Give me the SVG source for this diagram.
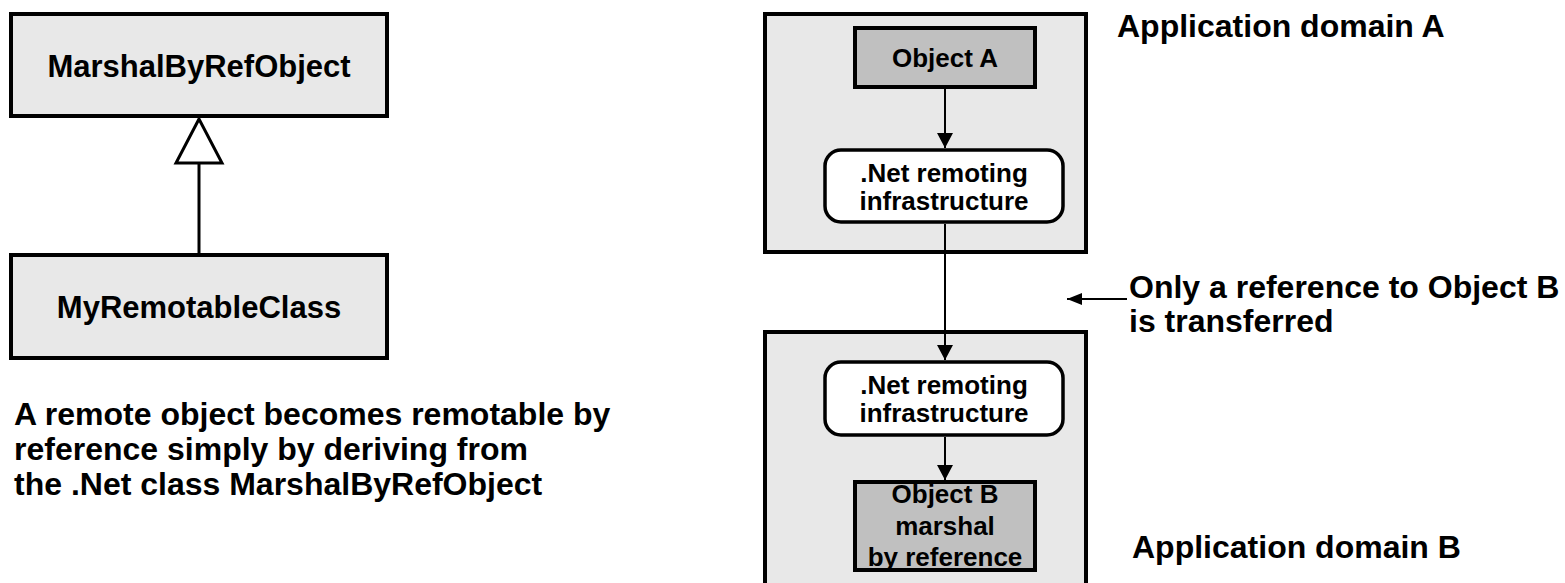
<svg xmlns="http://www.w3.org/2000/svg" width="1565" height="583" viewBox="0 0 1565 583">
<style>
text{font-family:"Liberation Sans",Arial,sans-serif;font-weight:bold;fill:#000}
.cls{fill:#e8e8e8;stroke:#000;stroke-width:4}
.dom{fill:#e8e8e8;stroke:#000;stroke-width:4}
.obj{fill:#c0c0c0;stroke:#000;stroke-width:4}
.infra{fill:#fff;stroke:#000;stroke-width:3.5}
.big{font-size:31px}
.lbl{font-size:32px}
.in{font-size:26px}
.conn{stroke:#000;stroke-width:2;fill:none}
</style>
<defs>
<marker id="ah" markerUnits="userSpaceOnUse" markerWidth="18" markerHeight="16" refX="15" refY="8" orient="auto">
<path d="M0,0 L15,8 L0,16 Z" fill="#000"/>
</marker>
<marker id="ah2" markerUnits="userSpaceOnUse" markerWidth="16" markerHeight="14" refX="15" refY="7" orient="auto">
<path d="M0,1 L15,7 L0,13 Z" fill="#000"/>
</marker>
</defs>
<g id="marshalByRefObject">
<rect class="cls" x="11" y="14" width="376" height="102"/>
<text class="big" x="199" y="77" text-anchor="middle">MarshalByRefObject</text>
</g>
<g id="myRemotableClass">
<rect class="cls" x="11" y="255" width="376" height="103"/>
<text class="big" x="199" y="318" text-anchor="middle">MyRemotableClass</text>
</g>
<g id="caption">
<text class="lbl" x="14" y="425">A remote object becomes remotable by</text>
<text class="lbl" x="14" y="460">reference simply by deriving from</text>
<text class="lbl" x="14" y="495">the .Net class MarshalByRefObject</text>
</g>
<g id="domainA">
<rect class="dom" x="765" y="14" width="321" height="238"/>
<text class="lbl" x="1117" y="37">Application domain A</text>
</g>
<g id="domainB">
<rect class="dom" x="765" y="332" width="321" height="270"/>
<text class="lbl" x="1132" y="558">Application domain B</text>
</g>
<g id="objectA">
<rect class="obj" x="855" y="28" width="180" height="59"/>
<text class="in" x="945" y="67" text-anchor="middle">Object A</text>
</g>
<g id="infraA">
<rect class="infra" x="825" y="150" width="238" height="72" rx="16"/>
<text class="in" x="944" y="182" text-anchor="middle">.Net remoting</text>
<text class="in" x="944" y="210" text-anchor="middle">infrastructure</text>
</g>
<g id="infraB">
<rect class="infra" x="825" y="362" width="238" height="73" rx="16"/>
<text class="in" x="944" y="394" text-anchor="middle">.Net remoting</text>
<text class="in" x="944" y="422" text-anchor="middle">infrastructure</text>
</g>
<g id="objectB">
<rect class="obj" x="855" y="482" width="180" height="88"/>
<text class="in" x="945" y="503" text-anchor="middle">Object B</text>
<text class="in" x="945" y="535" text-anchor="middle">marshal</text>
<text class="in" x="945" y="566" text-anchor="middle">by reference</text>
</g>
<g id="transferNote">
<text class="lbl" x="1129" y="298">Only a reference to Object B</text>
<text class="lbl" x="1129" y="332">is transferred</text>
</g>
<g id="connectors">
<line x1="199" y1="164" x2="199" y2="255" stroke="#000" stroke-width="3"/>
<polygon points="199,119 176,163 222,163" fill="#fff" stroke="#000" stroke-width="3"/>
<line class="conn" x1="945" y1="89" x2="945" y2="148" marker-end="url(#ah)"/>
<line class="conn" x1="945" y1="224" x2="945" y2="360" marker-end="url(#ah)"/>
<line class="conn" x1="945" y1="437" x2="945" y2="480" marker-end="url(#ah)"/>
<line class="conn" x1="1127" y1="299" x2="1067" y2="299" marker-end="url(#ah2)"/>
</g>
</svg>
